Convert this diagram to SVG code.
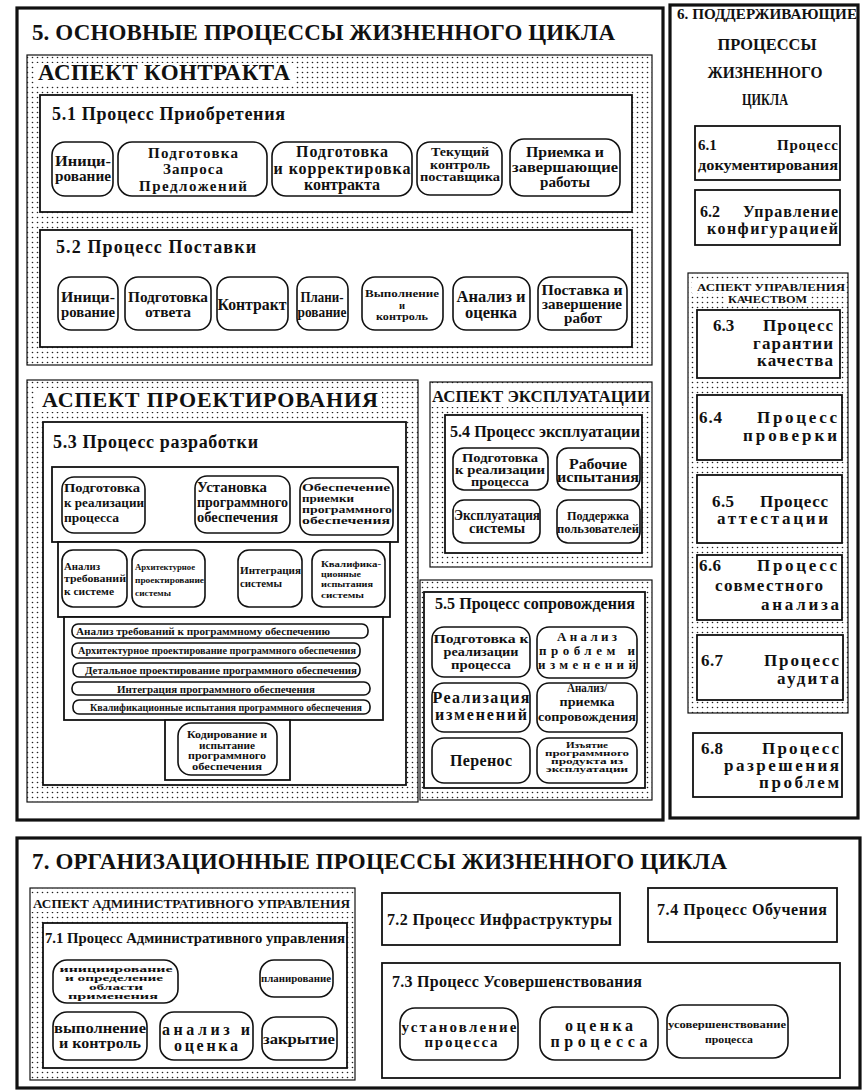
<svg xmlns="http://www.w3.org/2000/svg" width="863" height="1092" viewBox="0 0 863 1092">
<defs>
<pattern id="dots" width="5" height="5" patternUnits="userSpaceOnUse"><circle cx="2.5" cy="2.5" r="0.8" fill="#222"/></pattern>
<style>
text{font-family:"Liberation Serif","Times New Roman","DejaVu Serif",serif;font-weight:bold;fill:#111}
.c{text-anchor:middle}
.e{text-anchor:end}
.outer{fill:#fff;stroke:#111;stroke-width:3.2}
.box{fill:#fff;stroke:#111;stroke-width:1.8}
.asp{fill:url(#dots);stroke:#111;stroke-width:1.2}
.pill{fill:#fff;stroke:#111;stroke-width:1.6}
.wh{fill:#fff}
.h1{font-size:23px}
.h2{font-size:18px}
</style>
</defs>
<rect width="863" height="1092" fill="#fff"/>
<g id="connectors"/>

<g id="main5">
<rect class="outer" x="17" y="8" width="646" height="812"/>
<text class="h1" x="32" y="40" textLength="583">5. ОСНОВНЫЕ ПРОЦЕССЫ ЖИЗНЕННОГО ЦИКЛА</text>
</g>

<g id="aspect-contract">
<rect class="asp" x="27" y="55" width="625" height="310"/>
<rect class="wh" x="34" y="63" width="260" height="22"/>
<text class="h1" x="38" y="80" textLength="252">АСПЕКТ КОНТРАКТА</text>
</g>

<g id="p5-1">
<rect class="box" x="40" y="95" width="592" height="117"/>
<text class="h2" x="52" y="120" textLength="233">5.1 Процесс Приобретения</text>
<rect class="pill" x="52" y="142" width="61" height="54" rx="13"/>
<text class="c" x="83" y="166" font-size="14" textLength="56" lengthAdjust="spacingAndGlyphs">Иници-</text>
<text class="c" x="83" y="181" font-size="14" textLength="56" lengthAdjust="spacingAndGlyphs">рование</text>
<rect class="pill" x="118" y="142" width="149" height="54" rx="14"/>
<text class="c" x="193" y="158" font-size="15" textLength="90">Подготовка</text>
<text class="c" x="193" y="174" font-size="15" textLength="60">Запроса</text>
<text class="c" x="193" y="191" font-size="15" textLength="108">Предложений</text>
<rect class="pill" x="272" y="142" width="140" height="54" rx="14"/>
<text class="c" x="342" y="157" font-size="16" textLength="92">Подготовка</text>
<text class="c" x="342" y="174" font-size="16" textLength="137">и корректировка</text>
<text class="c" x="342" y="190" font-size="16" textLength="76">контракта</text>
<rect class="pill" x="417" y="142" width="85" height="53" rx="13"/>
<text class="c" x="460" y="156" font-size="12" textLength="58" lengthAdjust="spacingAndGlyphs">Текущий</text>
<text class="c" x="460" y="168.5" font-size="12" textLength="60" lengthAdjust="spacingAndGlyphs">контроль</text>
<text class="c" x="460" y="181" font-size="12" textLength="80" lengthAdjust="spacingAndGlyphs">поставщика</text>
<rect class="pill" x="510" y="139" width="110" height="57" rx="14"/>
<text class="c" x="565" y="157" font-size="14" textLength="78" lengthAdjust="spacingAndGlyphs">Приемка и</text>
<text class="c" x="565" y="172" font-size="14" textLength="106" lengthAdjust="spacingAndGlyphs">завершающие</text>
<text class="c" x="565" y="187" font-size="14" textLength="50" lengthAdjust="spacingAndGlyphs">работы</text>
</g>

<g id="p5-2">
<rect class="box" x="40" y="230" width="592" height="117"/>
<text class="h2" x="56" y="253" textLength="200">5.2 Процесс Поставки</text>
<rect class="pill" x="58" y="277" width="60" height="53" rx="13"/>
<text class="c" x="88" y="302" font-size="14" textLength="54" lengthAdjust="spacingAndGlyphs">Иници-</text>
<text class="c" x="88" y="317" font-size="14" textLength="54" lengthAdjust="spacingAndGlyphs">рование</text>
<rect class="pill" x="125" y="277" width="86" height="53" rx="13"/>
<text class="c" x="168" y="302" font-size="15" textLength="80" lengthAdjust="spacingAndGlyphs">Подготовка</text>
<text class="c" x="168" y="317" font-size="15" textLength="46" lengthAdjust="spacingAndGlyphs">ответа</text>
<rect class="pill" x="217" y="277" width="71" height="53" rx="13"/>
<text class="c" x="252" y="310" font-size="16" textLength="69" lengthAdjust="spacingAndGlyphs">Контракт</text>
<rect class="pill" x="297" y="277" width="51" height="53" rx="12"/>
<text class="c" x="322" y="302" font-size="14" textLength="43" lengthAdjust="spacingAndGlyphs">Плани-</text>
<text class="c" x="322" y="317" font-size="14" textLength="49" lengthAdjust="spacingAndGlyphs">рование</text>
<rect class="pill" x="362" y="277" width="81" height="53" rx="13"/>
<text class="c" x="402" y="297" font-size="10.5" textLength="74" lengthAdjust="spacingAndGlyphs">Выполнение</text>
<text class="c" x="402" y="308.5" font-size="10.5">и</text>
<text class="c" x="402" y="320" font-size="10.5" textLength="52" lengthAdjust="spacingAndGlyphs">контроль</text>
<rect class="pill" x="453" y="277" width="77" height="53" rx="13"/>
<text class="c" x="491" y="302" font-size="16" textLength="69" lengthAdjust="spacingAndGlyphs">Анализ и</text>
<text class="c" x="491" y="318" font-size="16" textLength="52" lengthAdjust="spacingAndGlyphs">оценка</text>
<rect class="pill" x="538" y="277" width="89" height="53" rx="13"/>
<text class="c" x="582" y="295" font-size="14" textLength="81" lengthAdjust="spacingAndGlyphs">Поставка и</text>
<text class="c" x="582" y="309" font-size="14" textLength="80" lengthAdjust="spacingAndGlyphs">завершение</text>
<text class="c" x="583" y="323" font-size="14" textLength="38" lengthAdjust="spacingAndGlyphs">работ</text>
</g>

<g id="aspect-design">
<rect class="asp" x="27" y="380" width="391" height="422"/>
<rect class="wh" x="36" y="388" width="346" height="24"/>
<text x="42" y="407" font-size="22" textLength="336">АСПЕКТ ПРОЕКТИРОВАНИЯ</text>
</g>

<g id="p5-3">
<rect class="box" x="43" y="422" width="363" height="363"/>
<text class="h2" x="53" y="448" textLength="205">5.3 Процесс разработки</text>
<rect class="box" x="52" y="467" width="346" height="75"/>
<rect class="box" x="58" y="542" width="332" height="75"/>
<rect class="box" x="64" y="617" width="319" height="103"/>
<rect class="box" x="165" y="720" width="125" height="60"/>
</g>

<g id="d-prep">
<rect class="pill" x="62" y="477" width="83" height="56" rx="12"/>
<text x="64" y="492" font-size="13" textLength="76" lengthAdjust="spacingAndGlyphs">Подготовка</text>
<text x="64" y="507" font-size="13" textLength="80" lengthAdjust="spacingAndGlyphs">к реализации</text>
<text x="64" y="522" font-size="13" textLength="55" lengthAdjust="spacingAndGlyphs">процесса</text>
</g>
<g id="d-install">
<rect class="pill" x="195" y="476" width="95" height="57" rx="12"/>
<text x="197" y="492" font-size="14" textLength="70" lengthAdjust="spacingAndGlyphs">Установка</text>
<text x="197" y="507" font-size="14" textLength="91" lengthAdjust="spacingAndGlyphs">программного</text>
<text x="197" y="522" font-size="14" textLength="81" lengthAdjust="spacingAndGlyphs">обеспечения</text>
</g>
<g id="d-accept">
<rect class="pill" x="300" y="478" width="93" height="57" rx="12"/>
<text x="302" y="491" font-size="10.5" textLength="88" lengthAdjust="spacingAndGlyphs">Обеспечение</text>
<text x="302" y="502" font-size="10.5" textLength="52" lengthAdjust="spacingAndGlyphs">приемки</text>
<text x="302" y="513" font-size="10.5" textLength="90" lengthAdjust="spacingAndGlyphs">программного</text>
<text x="302" y="524" font-size="10.5" textLength="88" lengthAdjust="spacingAndGlyphs">обеспечения</text>
</g>
<g id="d-sysreq">
<rect class="pill" x="62" y="550" width="65" height="57" rx="11"/>
<text x="64" y="570" font-size="10" textLength="36" lengthAdjust="spacingAndGlyphs">Анализ</text>
<text x="64" y="582" font-size="10" textLength="62" lengthAdjust="spacingAndGlyphs">требований</text>
<text x="64" y="595" font-size="10" textLength="50" lengthAdjust="spacingAndGlyphs">к системе</text>
</g>
<g id="d-sysarch">
<rect class="pill" x="132" y="550" width="73" height="57" rx="11"/>
<text x="135" y="570" font-size="9" textLength="60" lengthAdjust="spacingAndGlyphs">Архитектурное</text>
<text x="135" y="583" font-size="9" textLength="69" lengthAdjust="spacingAndGlyphs">проектирование</text>
<text x="135" y="596" font-size="9" textLength="36" lengthAdjust="spacingAndGlyphs">системы</text>
</g>
<g id="d-sysint">
<rect class="pill" x="238" y="550" width="64" height="57" rx="11"/>
<text x="240" y="574" font-size="11" textLength="61" lengthAdjust="spacingAndGlyphs">Интеграция</text>
<text x="240" y="587" font-size="11" textLength="42" lengthAdjust="spacingAndGlyphs">системы</text>
</g>
<g id="d-systest">
<rect class="pill" x="312" y="550" width="73" height="57" rx="11"/>
<text x="321" y="567" font-size="9" textLength="60" lengthAdjust="spacingAndGlyphs">Квалифика-</text>
<text x="321" y="577" font-size="9" textLength="40" lengthAdjust="spacingAndGlyphs">ционные</text>
<text x="321" y="587" font-size="9" textLength="52" lengthAdjust="spacingAndGlyphs">испытания</text>
<text x="321" y="598" font-size="9" textLength="43" lengthAdjust="spacingAndGlyphs">системы</text>
</g>
<g id="d-swreq">
<rect class="pill" x="72" y="624" width="296" height="14" rx="6"/>
<text x="76" y="635" font-size="11" textLength="254" lengthAdjust="spacingAndGlyphs">Анализ требований к программному обеспечению</text>
</g>
<g id="d-swarch">
<rect class="pill" x="72" y="643" width="288" height="15" rx="6"/>
<text x="78" y="654" font-size="10" textLength="278" lengthAdjust="spacingAndGlyphs">Архитектурное проектирование программного обеспечения</text>
</g>
<g id="d-swdet">
<rect class="pill" x="73" y="663" width="287" height="14" rx="6"/>
<text x="85" y="674" font-size="11" textLength="272" lengthAdjust="spacingAndGlyphs">Детальное проектирование программного обеспечения</text>
</g>
<g id="d-swint">
<rect class="pill" x="72" y="682" width="298" height="13" rx="6"/>
<text x="117" y="693" font-size="11" textLength="198" lengthAdjust="spacingAndGlyphs">Интеграция программного обеспечения</text>
</g>
<g id="d-swtest">
<rect class="pill" x="73" y="700" width="297" height="14" rx="6"/>
<text x="90" y="711" font-size="10" textLength="272" lengthAdjust="spacingAndGlyphs">Квалификационные испытания программного обеспечения</text>
</g>
<g id="d-code">
<rect class="pill" x="178" y="723" width="99" height="52" rx="13"/>
<text class="c" x="227" y="738" font-size="10.5" textLength="80" lengthAdjust="spacingAndGlyphs">Кодирование и</text>
<text class="c" x="227" y="748.5" font-size="10.5" textLength="56" lengthAdjust="spacingAndGlyphs">испытание</text>
<text class="c" x="227" y="759" font-size="10.5" textLength="78" lengthAdjust="spacingAndGlyphs">программного</text>
<text class="c" x="227" y="769.5" font-size="10.5" textLength="70" lengthAdjust="spacingAndGlyphs">обеспечения</text>
</g>

<g id="aspect-operation">
<rect class="asp" x="430" y="382" width="222" height="185"/>
<rect class="wh" x="431" y="386" width="220" height="21"/>
<text x="432" y="402" font-size="17" textLength="218" lengthAdjust="spacingAndGlyphs">АСПЕКТ ЭКСПЛУАТАЦИИ</text>
</g>

<g id="p5-4">
<rect class="box" x="445" y="415" width="197" height="138"/>
<text x="450" y="437" font-size="17" textLength="190" lengthAdjust="spacingAndGlyphs">5.4 Процесс эксплуатации</text>
<rect class="pill" x="453" y="448" width="95" height="42" rx="11"/>
<text class="c" x="500" y="462" font-size="12" textLength="76" lengthAdjust="spacingAndGlyphs">Подготовка</text>
<text class="c" x="500" y="474" font-size="12" textLength="90" lengthAdjust="spacingAndGlyphs">к реализации</text>
<text class="c" x="500" y="486" font-size="12" textLength="58" lengthAdjust="spacingAndGlyphs">процесса</text>
<rect class="pill" x="557" y="448" width="83" height="42" rx="11"/>
<text class="c" x="598" y="469" font-size="14" textLength="58" lengthAdjust="spacingAndGlyphs">Рабочие</text>
<text class="c" x="598" y="482" font-size="14" textLength="82" lengthAdjust="spacingAndGlyphs">испытания</text>
<rect class="pill" x="453" y="500" width="87" height="43" rx="11"/>
<text class="c" x="497" y="520" font-size="14" textLength="86" lengthAdjust="spacingAndGlyphs">Эксплуатация</text>
<text class="c" x="497" y="533" font-size="14" textLength="56" lengthAdjust="spacingAndGlyphs">системы</text>
<rect class="pill" x="557" y="500" width="83" height="43" rx="11"/>
<text class="c" x="598" y="520" font-size="12" textLength="62" lengthAdjust="spacingAndGlyphs">Поддержка</text>
<text class="c" x="598" y="533" font-size="12" textLength="82" lengthAdjust="spacingAndGlyphs">пользователей</text>
</g>

<g id="aspect-5-5">
<rect class="asp" x="420" y="580" width="232" height="220"/>
</g>

<g id="p5-5">
<rect class="box" x="424" y="592" width="221" height="196"/>
<text x="435" y="609" font-size="17" textLength="200" lengthAdjust="spacingAndGlyphs">5.5 Процесс сопровождения</text>
<rect class="pill" x="432" y="627" width="98" height="50" rx="12"/>
<text class="c" x="481" y="643" font-size="13" textLength="95" lengthAdjust="spacingAndGlyphs">Подготовка к</text>
<text class="c" x="481" y="656" font-size="13" textLength="75" lengthAdjust="spacingAndGlyphs">реализации</text>
<text class="c" x="481" y="669" font-size="13" textLength="60" lengthAdjust="spacingAndGlyphs">процесса</text>
<rect class="pill" x="537" y="627" width="100" height="51" rx="12"/>
<text class="c" x="587" y="641" font-size="13" textLength="60">Анализ</text>
<text class="c" x="587" y="655" font-size="13" textLength="96">проблем и</text>
<text class="c" x="587" y="669" font-size="13" textLength="98">изменений</text>
<rect class="pill" x="432" y="683" width="98" height="49" rx="12"/>
<text class="c" x="481" y="703" font-size="16" textLength="97">Реализация</text>
<text class="c" x="481" y="720" font-size="16" textLength="92">изменений</text>
<rect class="pill" x="537" y="683" width="100" height="49" rx="12"/>
<text class="c" x="587" y="692" font-size="12" textLength="40" lengthAdjust="spacingAndGlyphs">Анализ/</text>
<text class="c" x="587" y="706" font-size="12" textLength="55" lengthAdjust="spacingAndGlyphs">приемка</text>
<text class="c" x="587" y="721" font-size="12" textLength="98" lengthAdjust="spacingAndGlyphs">сопровождения</text>
<rect class="pill" x="432" y="738" width="98" height="45" rx="12"/>
<text class="c" x="481" y="766" font-size="16" textLength="62">Перенос</text>
<rect class="pill" x="537" y="738" width="100" height="45" rx="12"/>
<text class="c" x="587" y="748" font-size="8" textLength="42" lengthAdjust="spacingAndGlyphs">Изъятие</text>
<text class="c" x="587" y="756" font-size="8" textLength="84" lengthAdjust="spacingAndGlyphs">программного</text>
<text class="c" x="587" y="764" font-size="8" textLength="72" lengthAdjust="spacingAndGlyphs">продукта из</text>
<text class="c" x="587" y="772" font-size="8" textLength="82" lengthAdjust="spacingAndGlyphs">эксплуатации</text>
</g>

<g id="main6">
<rect class="outer" x="670" y="5" width="188" height="813"/>
<text x="677" y="19" font-size="15" textLength="180" lengthAdjust="spacingAndGlyphs">6. ПОДДЕРЖИВАЮЩИЕ</text>
<text class="c" x="767" y="50" font-size="17" textLength="99" lengthAdjust="spacingAndGlyphs">ПРОЦЕССЫ</text>
<text class="c" x="765" y="78" font-size="17" textLength="115" lengthAdjust="spacingAndGlyphs">ЖИЗНЕННОГО</text>
<text class="c" x="765" y="105" font-size="17" textLength="46" lengthAdjust="spacingAndGlyphs">ЦИКЛА</text>
</g>

<g id="p6-1">
<rect class="box" x="695" y="126" width="145" height="54"/>
<text x="698" y="150" font-size="15">6.1</text>
<text class="e" x="838" y="150" font-size="15" textLength="61">Процесс</text>
<text x="698" y="170" font-size="15" textLength="140" lengthAdjust="spacingAndGlyphs">документирования</text>
</g>
<g id="p6-2">
<rect class="box" x="695" y="190" width="145" height="55"/>
<text x="700" y="217" font-size="16">6.2</text>
<text class="e" x="838" y="217" font-size="16" textLength="95">Управление</text>
<text class="e" x="838" y="234" font-size="16" textLength="131">конфигурацией</text>
</g>

<g id="aspect-quality">
<rect class="asp" x="688" y="273" width="160" height="440"/>
<rect class="wh" x="692" y="281" width="154" height="12"/>
<rect class="wh" x="725" y="293" width="85" height="12"/>
<text x="697" y="291" font-size="10.5" textLength="148" lengthAdjust="spacingAndGlyphs">АСПЕКТ УПРАВЛЕНИЯ</text>
<text x="728" y="303" font-size="10.5" textLength="79" lengthAdjust="spacingAndGlyphs">КАЧЕСТВОМ</text>
</g>

<g id="p6-3">
<rect class="box" x="697" y="310" width="143" height="68"/>
<text x="713" y="331" font-size="17">6.3</text>
<text class="e" x="833" y="331" font-size="17" textLength="70">Процесс</text>
<text class="e" x="833" y="349" font-size="17" textLength="80">гарантии</text>
<text class="e" x="833" y="366" font-size="17" textLength="76">качества</text>
</g>
<g id="p6-4">
<rect class="box" x="697" y="395" width="145" height="65"/>
<text x="699" y="423" font-size="17" textLength="23">6.4</text>
<text class="e" x="837" y="423" font-size="17" textLength="80">Процесс</text>
<text class="e" x="837" y="441" font-size="17" textLength="94">проверки</text>
</g>
<g id="p6-5">
<rect class="box" x="697" y="475" width="145" height="68"/>
<text x="712" y="507" font-size="17" textLength="22">6.5</text>
<text class="e" x="828" y="507" font-size="17" textLength="68">Процесс</text>
<text class="e" x="828" y="524" font-size="17" textLength="111">аттестации</text>
</g>
<g id="p6-6">
<rect class="box" x="697" y="555" width="145" height="65"/>
<text x="699" y="571" font-size="17" textLength="22">6.6</text>
<text class="e" x="837" y="571" font-size="17" textLength="80">Процесс</text>
<text class="e" x="823" y="591" font-size="17" textLength="108">совместного</text>
<text class="e" x="839" y="610" font-size="17" textLength="78">анализа</text>
</g>
<g id="p6-7">
<rect class="box" x="697" y="635" width="146" height="65"/>
<text x="701" y="666" font-size="17" textLength="22">6.7</text>
<text class="e" x="839" y="666" font-size="17" textLength="75">Процесс</text>
<text class="e" x="839" y="684" font-size="17" textLength="62">аудита</text>
</g>
<g id="p6-8">
<rect class="box" x="693" y="733" width="149" height="64"/>
<text x="701" y="754" font-size="17" textLength="22">6.8</text>
<text class="e" x="839" y="754" font-size="17" textLength="77">Процесс</text>
<text class="e" x="839" y="771" font-size="17" textLength="115">разрешения</text>
<text class="e" x="839" y="788" font-size="17" textLength="80">проблем</text>
</g>

<g id="main7">
<rect class="outer" x="17" y="838" width="843" height="250"/>
<text class="h1" x="32" y="869" textLength="695">7. ОРГАНИЗАЦИОННЫЕ ПРОЦЕССЫ ЖИЗНЕННОГО ЦИКЛА</text>
</g>

<g id="aspect-admin">
<rect class="asp" x="30" y="888" width="325" height="192"/>
<rect class="wh" x="31" y="894" width="323" height="18"/>
<text x="33" y="908" font-size="13" textLength="317" lengthAdjust="spacingAndGlyphs">АСПЕКТ АДМИНИСТРАТИВНОГО УПРАВЛЕНИЯ</text>
</g>

<g id="p7-1">
<rect class="box" x="43" y="923" width="304" height="145"/>
<text x="45" y="943" font-size="15" textLength="300" lengthAdjust="spacingAndGlyphs">7.1 Процесс Административного управления</text>
<rect class="pill" x="53" y="960" width="125" height="43" rx="14"/>
<text class="c" x="116" y="972" font-size="9" textLength="113" lengthAdjust="spacingAndGlyphs">инициирование</text>
<text class="c" x="114" y="981" font-size="9" textLength="98" lengthAdjust="spacingAndGlyphs">и определение</text>
<text class="c" x="116" y="990" font-size="9" textLength="54" lengthAdjust="spacingAndGlyphs">области</text>
<text class="c" x="113" y="999" font-size="9" textLength="90" lengthAdjust="spacingAndGlyphs">применения</text>
<rect class="pill" x="260" y="960" width="73" height="37" rx="14"/>
<text class="c" x="296" y="982" font-size="10" textLength="70" lengthAdjust="spacingAndGlyphs">планирование</text>
<rect class="pill" x="53" y="1012" width="94" height="48" rx="14"/>
<text class="c" x="100" y="1033" font-size="15" textLength="92" lengthAdjust="spacingAndGlyphs">выполнение</text>
<text class="c" x="100" y="1048" font-size="15" textLength="82" lengthAdjust="spacingAndGlyphs">и контроль</text>
<rect class="pill" x="160" y="1012" width="93" height="48" rx="14"/>
<text class="c" x="206" y="1035" font-size="16" textLength="88">анализ и</text>
<text class="c" x="206" y="1051" font-size="16" textLength="64">оценка</text>
<rect class="pill" x="262" y="1017" width="75" height="43" rx="14"/>
<text class="c" x="299" y="1044" font-size="14" textLength="72" lengthAdjust="spacingAndGlyphs">закрытие</text>
</g>

<g id="p7-2">
<rect class="box" x="382" y="893" width="238" height="52"/>
<text x="387" y="925" font-size="16" textLength="225">7.2 Процесс Инфраструктуры</text>
</g>
<g id="p7-4">
<rect class="box" x="648" y="888" width="189" height="54"/>
<text x="657" y="915" font-size="16" textLength="170">7.4 Процесс Обучения</text>
</g>
<g id="p7-3">
<rect class="box" x="382" y="963" width="458" height="115"/>
<text x="392" y="987" font-size="16" textLength="250">7.3 Процесс Усовершенствования</text>
<rect class="pill" x="400" y="1008" width="118" height="52" rx="15"/>
<text class="c" x="459" y="1032" font-size="15" textLength="115">установление</text>
<text class="c" x="461" y="1047" font-size="15" textLength="73">процесса</text>
<rect class="pill" x="540" y="1007" width="118" height="53" rx="15"/>
<text class="c" x="599" y="1031" font-size="16" textLength="68">оценка</text>
<text class="c" x="599" y="1047" font-size="16" textLength="97">процесса</text>
<rect class="pill" x="667" y="1005" width="121" height="53" rx="15"/>
<text class="c" x="727" y="1028" font-size="11" textLength="118" lengthAdjust="spacingAndGlyphs">усовершенствование</text>
<text class="c" x="729" y="1043" font-size="11" textLength="48" lengthAdjust="spacingAndGlyphs">процесса</text>
</g>
</svg>
